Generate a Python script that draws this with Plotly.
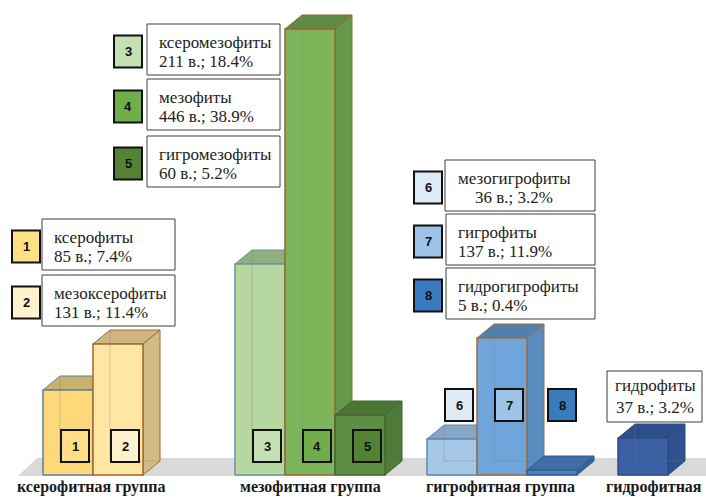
import plotly.graph_objects as go

# ---- data ----
groups = ["ксерофитная группа", "мезофитная группа", "гигрофитная группа", "гидрофитная"]
names = ["ксерофиты", "мезоксерофиты", "ксеромезофиты", "мезофиты", "гигромезофиты",
         "мезогигрофиты", "гигрофиты", "гидрогигрофиты", "гидрофиты"]
counts = [85, 131, 211, 446, 60, 36, 137, 5, 37]
percents = ["7.4", "11.4", "18.4", "38.9", "5.2", "3.2", "11.9", "0.4", "3.2"]
group_of = [0, 0, 1, 1, 1, 2, 2, 2, 3]
slot_of = [0, 1, 0, 1, 2, 0, 1, 2, 0]
numbers = ["1", "2", "3", "4", "5", "6", "7", "8", ""]

# ---- styles ----
front_col = ["#FED97A", "#FFE6A3", "#B6D8A0", "#7DB65A", "#5E8E43",
             "#A6C8E8", "#6FA5DB", "#4A82C0", "#3B60A4"]
top_col = ["#C9B16E", "#CDB682", "#8FAF7F", "#5E8C42", "#4A7533",
           "#86A6C6", "#517FAE", "#3E6EA6", "#2D4E89"]
side_col = ["#D8BE72", "#D3BD86", "#9CBF88", "#65994A", "#4F7B38",
            "#8CB0D3", "#5A8CC0", "#356398", "#2F528E"]
edge_col = ["#5E7FA0", "#A8652C", "#6E90A8", "#9C6430", "#44663A",
            "#5B86B3", "#A0693E", "#2F5E92", "#2B4C85"]
sq_col = ["#FFDF86", "#FFF2CC", "#C5E0B4", "#72AD4B", "#548235",
          "#DEEBF7", "#9DC3E6", "#3A7BC0", ""]

group_left = [43, 235, 427, 618]
label_shift = [-2, 0, -2, 11]
BW = 50
DX, DY = 17, 14
BASE_PX = 475

SERIF = "Liberation Serif"


def Y(py):
    return BASE_PX - py


fig = go.Figure()

# floor
fig.add_trace(go.Scatter(x=[18, 720, 720, 37], y=[Y(476), Y(476), Y(458), Y(458)],
                         fill="toself", fillcolor="#D9D9D9", line=dict(width=0),
                         mode="lines", hoverinfo="skip", showlegend=False))

for i, v in enumerate(counts):
    l = group_left[group_of[i]] + slot_of[i] * BW
    r = l + BW
    # top face
    fig.add_trace(go.Scatter(x=[l, r, r + DX, l + DX, l], y=[v, v, v + DY, v + DY, v],
                             fill="toself", fillcolor=top_col[i],
                             line=dict(color=edge_col[i], width=1),
                             mode="lines", hoverinfo="skip", showlegend=False))
    # side face
    fig.add_trace(go.Scatter(x=[r, r + DX, r + DX, r, r], y=[0, DY, v + DY, v, 0],
                             fill="toself", fillcolor=side_col[i],
                             line=dict(color=edge_col[i], width=1),
                             mode="lines", hoverinfo="skip", showlegend=False))
    # front face
    fig.add_trace(go.Scatter(x=[l, r, r, l, l], y=[0, 0, v, v, 0],
                             fill="toself", fillcolor=front_col[i],
                             line=dict(color=edge_col[i], width=1.5),
                             mode="lines", hoverinfo="text",
                             text=f"{names[i]}: {v}", showlegend=False))
    # hidden edges seen through translucent box
    if v > DY:
        fig.add_trace(go.Scatter(x=[l + DX, l + DX, None, l + DX, r + DX],
                                 y=[DY, v + DY, None, DY, DY],
                                 mode="lines", line=dict(color="rgba(120,120,120,0.35)", width=1),
                                 hoverinfo="skip", showlegend=False))

# category labels
for g, name in enumerate(groups):
    n_in = sum(1 for k in group_of if k == g)
    cx = group_left[g] + n_in * BW / 2 + label_shift[g]
    fig.add_annotation(x=cx, y=Y(497), text=f"<b>{name}</b>", showarrow=False,
                       font=dict(family=SERIF, size=16, color="#1a1a1a"),
                       xanchor="center", yanchor="bottom", borderpad=0)

# legend blocks
legend_square_x = [12, 12, 114, 114, 114, 414, 414, 414]
legend_box_x = [(42, 175), (42, 175), (147, 280), (147, 280), (147, 280),
                (445, 595), (446, 595), (446, 595)]
legend_box_top = [219, 275, 24, 79, 136, 160, 214, 268]
BOX_H = 51
SQ_W, SQ_H = 28, 32

serif = dict(family=SERIF, size=17, color="#222222")
numfont = dict(family="Liberation Sans", size=13, color="#111111")

for i in range(8):
    bx0, bx1 = legend_box_x[i]
    bt = legend_box_top[i]
    fig.add_shape(type="rect", x0=bx0, x1=bx1, y0=Y(bt), y1=Y(bt + BOX_H),
                  line=dict(color="#3f3f3f", width=1), fillcolor="white")
    sx = legend_square_x[i]
    st = bt + (BOX_H - SQ_H) / 2 + 2
    fig.add_shape(type="rect", x0=sx, x1=sx + SQ_W, y0=Y(st), y1=Y(st + SQ_H),
                  line=dict(color="#111111", width=2), fillcolor=sq_col[i])
    fig.add_annotation(x=sx + SQ_W / 2, y=Y(st + SQ_H / 2), text=f"<b>{numbers[i]}</b>",
                       showarrow=False, font=numfont, xanchor="center", yanchor="middle")
    line2 = f"{counts[i]} в.; {percents[i]}%"
    if i == 5:
        cx = (bx0 + bx1) / 2 - 6
        fig.add_annotation(x=cx, y=Y(bt + 18), text=names[i], showarrow=False,
                           font=serif, xanchor="center", yanchor="middle")
        fig.add_annotation(x=cx, y=Y(bt + 37), text=line2, showarrow=False,
                           font=serif, xanchor="center", yanchor="middle")
    else:
        fig.add_annotation(x=bx0 + 10, y=Y(bt + 18), text=names[i], showarrow=False,
                           font=serif, xanchor="left", yanchor="middle")
        fig.add_annotation(x=bx0 + 10, y=Y(bt + 37), text=line2, showarrow=False,
                           font=serif, xanchor="left", yanchor="middle")

# hydrophyte label box
fig.add_shape(type="rect", x0=607, x1=702, y0=Y(371), y1=Y(422),
              line=dict(color="#3f3f3f", width=1), fillcolor="white")
fig.add_annotation(x=655, y=Y(385), text=names[8], showarrow=False, font=serif,
                   xanchor="center", yanchor="middle")
fig.add_annotation(x=655, y=Y(407), text=f"{counts[8]} в.; {percents[8]}%", showarrow=False,
                   font=serif, xanchor="center", yanchor="middle")

# numbered squares inside bars
for i in range(8):
    l = group_left[group_of[i]] + slot_of[i] * BW
    cx = l + BW / 2 + (10 if i == 7 else 7)
    top = 430 if group_of[i] < 2 else 389
    fig.add_shape(type="rect", x0=cx - 14, x1=cx + 14, y0=Y(top), y1=Y(top + SQ_H),
                  line=dict(color="#111111", width=2), fillcolor=sq_col[i])
    fig.add_annotation(x=cx, y=Y(top + SQ_H / 2), text=f"<b>{numbers[i]}</b>",
                       showarrow=False, font=numfont, xanchor="center", yanchor="middle")

fig.update_layout(
    width=706, height=497,
    margin=dict(l=0, r=0, t=0, b=0),
    paper_bgcolor="white", plot_bgcolor="white",
    xaxis=dict(range=[0, 706], visible=False, fixedrange=True),
    yaxis=dict(range=[Y(497), Y(0)], visible=False, fixedrange=True),
    showlegend=False,
)

fig.write_html("out.html")
